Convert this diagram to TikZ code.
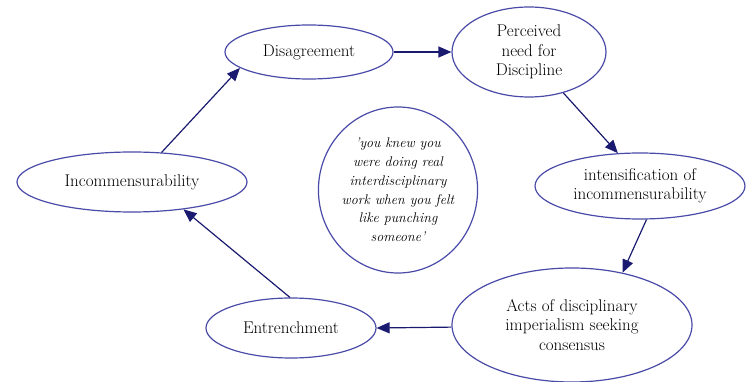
\documentclass[tikz,border=0pt]{standalone}
\usetikzlibrary{shapes.geometric,arrows.meta}
\definecolor{rim}{HTML}{4A4AA8}
\definecolor{navy}{HTML}{1A1A70}
\begin{document}
\begin{tikzpicture}[x=1pt,y=-1pt,
  blob/.style={ellipse,draw=rim,line width=1.2pt,inner sep=0pt,align=center,
    font=\fontsize{17}{19.5}\selectfont},
  link/.style={draw=navy,line width=1.2pt,-{Triangle[length=13pt,width=11pt]}}]
\useasboundingbox (0,0) rectangle (747,382);
\node[blob,minimum width=168pt,minimum height=54pt] (dis) at (309,52) {Disagreement};
\node[blob,minimum width=154pt,minimum height=90pt] (per) at (529,52) {Perceived\\need for\\Discipline};
\node[blob,minimum width=210pt,minimum height=66pt] (int) at (640,186) {intensification of\\incommensurability};
\node[blob,minimum width=240pt,minimum height=114pt] (acts) at (572,325) {Acts of disciplinary\\imperialism seeking\\consensus};
\node[blob,minimum width=170pt,minimum height=60pt] (ent) at (291,328) {Entrenchment};
\node[blob,minimum width=230pt,minimum height=60pt] (inc) at (132,182) {Incommensurability};
\node[blob,minimum width=154pt,minimum height=166pt,font=\fontsize{14}{18.8}\selectfont\itshape] (quote) at (398,190) {'you knew you\\were doing real\\interdisciplinary\\work when you felt\\like punching\\someone'};
\draw[link] (dis.east) -- (per.west);
\draw[link] (per.310) -- (int.124);
\draw[link] (int.281) -- (acts.46);
\draw[link] (acts.181) -- (ent.east);
\draw[link] (ent.92) -- (inc.332);
\draw[link] (inc.45) -- (dis.193);
\end{tikzpicture}
\end{document}
